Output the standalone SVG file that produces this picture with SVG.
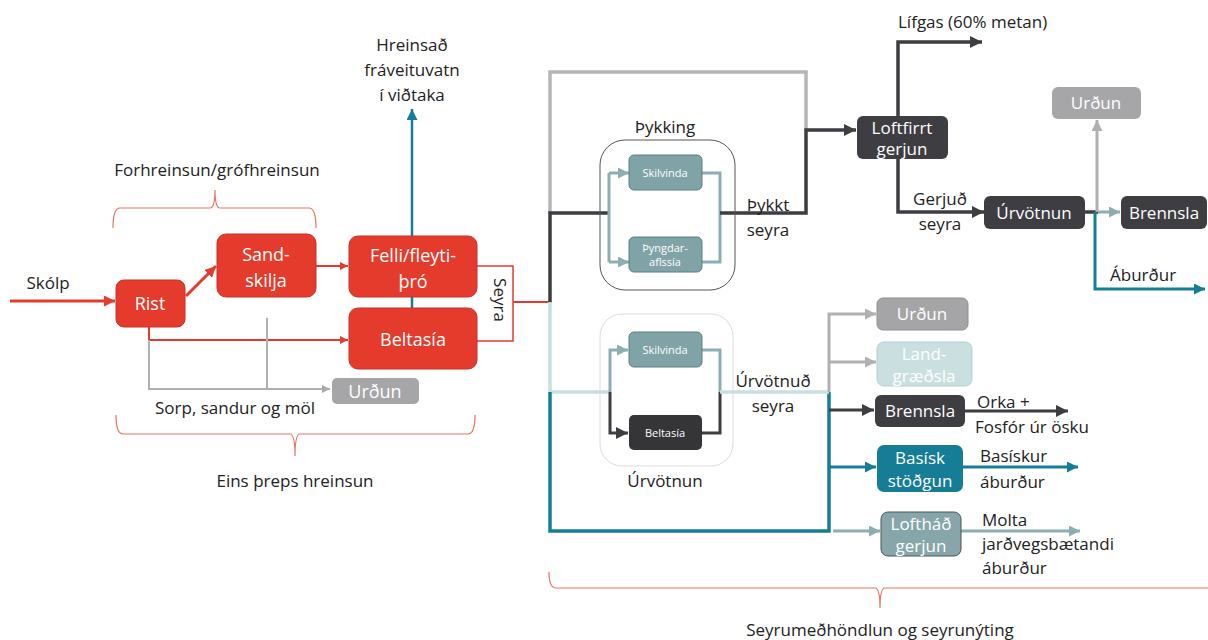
<svg xmlns="http://www.w3.org/2000/svg" width="1208" height="640" viewBox="0 0 1208 640">
<defs>
<style>
text{font-family:"Open Sans","Liberation Sans",sans-serif;fill:#222;font-size:17px}
.c{text-anchor:middle}
.w{fill:#fff}
.bt{font-size:18px}
.rb{font-size:17px}
.st{font-size:11px}
.red{fill:#e53b2c}
</style>
<marker id="aR" viewBox="0 0 10 10" refX="10" refY="5" markerWidth="11" markerHeight="11" markerUnits="userSpaceOnUse" orient="auto"><path d="M0,0 L10,5 L0,10 z" fill="#e53b2c"/></marker>
<marker id="aRs" viewBox="0 0 10 10" refX="10" refY="5" markerWidth="8" markerHeight="8" markerUnits="userSpaceOnUse" orient="auto"><path d="M0,0 L10,5 L0,10 z" fill="#e53b2c"/></marker>
<marker id="aT" viewBox="0 0 10 10" refX="10" refY="5" markerWidth="11" markerHeight="11" markerUnits="userSpaceOnUse" orient="auto"><path d="M0,0 L10,5 L0,10 z" fill="#167d96"/></marker>
<marker id="aD" viewBox="0 0 10 10" refX="10" refY="5" markerWidth="12" markerHeight="12" markerUnits="userSpaceOnUse" orient="auto"><path d="M0,0 L10,5 L0,10 z" fill="#3d3d42"/></marker>
<marker id="aG" viewBox="0 0 10 10" refX="10" refY="5" markerWidth="11" markerHeight="11" markerUnits="userSpaceOnUse" orient="auto"><path d="M0,0 L10,5 L0,10 z" fill="#b0b0b0"/></marker>
<marker id="aGs" viewBox="0 0 10 10" refX="10" refY="5" markerWidth="8" markerHeight="8" markerUnits="userSpaceOnUse" orient="auto"><path d="M0,0 L10,5 L0,10 z" fill="#a8a8a8"/></marker>
<marker id="aL" viewBox="0 0 10 10" refX="10" refY="5" markerWidth="11" markerHeight="11" markerUnits="userSpaceOnUse" orient="auto"><path d="M0,0 L10,5 L0,10 z" fill="#8cadb1"/></marker>
</defs>
<rect width="1208" height="640" fill="#fff"/>

<g id="connectors" fill="none" stroke-linejoin="miter">
  <line x1="10" y1="301" x2="115" y2="301" stroke="#e53b2c" stroke-width="3" marker-end="url(#aR)"/>
  <line x1="186" y1="296" x2="216" y2="266" stroke="#e53b2c" stroke-width="3" marker-end="url(#aR)"/>
  <line x1="316" y1="266" x2="348" y2="266" stroke="#e53b2c" stroke-width="2" marker-end="url(#aRs)"/>
  <polyline points="149,327 149,340 348,340" stroke="#e53b2c" stroke-width="2" marker-end="url(#aRs)"/>
  <polyline points="477,266 513,266 513,341 477,341" stroke="#e53b2c" stroke-width="1.5"/>
  <line x1="513" y1="302" x2="551" y2="302" stroke="#e53b2c" stroke-width="2"/>
  <polyline points="149,340 149,389 330,389" stroke="#b0b0b0" stroke-width="2" marker-end="url(#aGs)"/>
  <line x1="267" y1="318" x2="267" y2="389" stroke="#b0b0b0" stroke-width="2"/>
  <line x1="412" y1="236" x2="412" y2="109" stroke="#167d96" stroke-width="2.5" marker-end="url(#aT)"/>
  <line x1="412" y1="297" x2="412" y2="308" stroke="#167d96" stroke-width="2.5"/>
  <polyline points="550,213 550,72 806,72 806,130" stroke="#b5b5b5" stroke-width="3.5"/>
  <polyline points="550,303 550,213 608,213" stroke="#3d3d42" stroke-width="3.5"/>
  <line x1="609" y1="173" x2="609" y2="262" stroke="#8cadb1" stroke-width="3"/>
  <line x1="609" y1="173" x2="629" y2="173" stroke="#8cadb1" stroke-width="3" marker-end="url(#aL)"/>
  <line x1="609" y1="262" x2="629" y2="262" stroke="#8cadb1" stroke-width="3" marker-end="url(#aL)"/>
  <polyline points="702,173 720,173 720,262 702,262" stroke="#8cadb1" stroke-width="3"/>
  <polyline points="720,213 806,213 806,130 856,130" stroke="#3d3d42" stroke-width="3.5" marker-end="url(#aD)"/>
  <polyline points="898,116 898,42 982,42" stroke="#3d3d42" stroke-width="3.5" marker-end="url(#aD)"/>
  <polyline points="898,159 898,212 984,212" stroke="#3d3d42" stroke-width="3.5" marker-end="url(#aD)"/>
  <line x1="1085" y1="212" x2="1098" y2="212" stroke="#3d3d42" stroke-width="3.5"/>
  <line x1="1098" y1="212" x2="1120" y2="212" stroke="#8cadb1" stroke-width="3" marker-end="url(#aL)"/>
  <line x1="1097" y1="212" x2="1097" y2="120" stroke="#b0b0b0" stroke-width="3" marker-end="url(#aG)"/>
  <polyline points="1095,212 1095,289 1205,289" stroke="#167d96" stroke-width="3" marker-end="url(#aT)"/>
  <polyline points="550,302 550,392 610,392" stroke="#c8dfe2" stroke-width="3.5"/>
  <polyline points="550,392 550,531 829,531 829,392" stroke="#167d96" stroke-width="3.5"/>
  <polyline points="610,392 610,350 628,350" stroke="#8cadb1" stroke-width="3" marker-end="url(#aL)"/>
  <polyline points="610,392 610,433 628,433" stroke="#3d3d42" stroke-width="3" marker-end="url(#aD)"/>
  <polyline points="702,350 720,350 720,392" stroke="#8cadb1" stroke-width="3"/>
  <polyline points="702,433 720,433 720,392" stroke="#3d3d42" stroke-width="3"/>
  <line x1="720" y1="392" x2="829" y2="392" stroke="#c8dfe2" stroke-width="3.5"/>
  <polyline points="829,392 829,314 876,314" stroke="#b0b0b0" stroke-width="3" marker-end="url(#aG)"/>
  <line x1="829" y1="362" x2="876" y2="362" stroke="#b0b0b0" stroke-width="3" marker-end="url(#aG)"/>
  <line x1="829" y1="410" x2="874" y2="410" stroke="#3d3d42" stroke-width="3" marker-end="url(#aD)"/>
  <line x1="829" y1="467" x2="876" y2="467" stroke="#167d96" stroke-width="3" marker-end="url(#aT)"/>
  <line x1="833" y1="531" x2="880" y2="531" stroke="#8cadb1" stroke-width="3" marker-end="url(#aL)"/>
  <line x1="965" y1="411" x2="1068" y2="411" stroke="#3d3d42" stroke-width="3" marker-end="url(#aD)"/>
  <line x1="963" y1="467" x2="1078" y2="467" stroke="#167d96" stroke-width="3" marker-end="url(#aT)"/>
  <line x1="961" y1="531" x2="1080" y2="531" stroke="#8cadb1" stroke-width="3" marker-end="url(#aL)"/>
</g>

<g id="brackets" fill="none" stroke="#e8735f" stroke-width="1.2">
  <path d="M113,228 Q113,208 120,208 L210,208 Q215,208 215,190 Q215,208 220,208 L309,208 Q316,208 316,228"/>
  <path d="M116,415 Q116,434 123,434 L290,434 Q295,434 295,456 Q295,434 300,434 L468,434 Q475,434 475,415"/>
  <path d="M549,572 Q549,588 556,588 L875,588 Q880,588 880,608 Q880,588 885,588 L1208,588"/>
</g>

<g id="labels">
  <text x="48" y="289" class="c">Skólp</text>
  <text x="217" y="176" class="c">Forhreinsun/grófhreinsun</text>
  <text x="412" y="51" class="c">Hreinsað</text>
  <text x="412" y="76" class="c">fráveituvatn</text>
  <text x="412" y="101" class="c">í viðtaka</text>
  <text x="0" y="0" transform="translate(494,300) rotate(90)" class="c">Seyra</text>
  <text x="235" y="414" class="c">Sorp, sandur og möl</text>
  <text x="295" y="487" class="c">Eins þreps hreinsun</text>
  <text x="665" y="133" class="c">Þykking</text>
  <text x="768" y="211" class="c">Þykkt</text>
  <text x="768" y="236" class="c">seyra</text>
  <text x="773" y="387" class="c">Úrvötnuð</text>
  <text x="773" y="412" class="c">seyra</text>
  <text x="665" y="487" class="c">Úrvötnun</text>
  <text x="898" y="28">Lífgas (60% metan)</text>
  <text x="940" y="205" class="c">Gerjuð</text>
  <text x="940" y="230" class="c">seyra</text>
  <text x="1110" y="281">Áburður</text>
  <text x="977" y="408">Orka +</text>
  <text x="975" y="433">Fosfór úr ösku</text>
  <text x="980" y="462">Basískur</text>
  <text x="980" y="488">áburður</text>
  <text x="982" y="526">Molta</text>
  <text x="982" y="550">jarðvegsbætandi</text>
  <text x="982" y="574">áburður</text>
  <text x="880" y="636" class="c">Seyrumeðhöndlun og seyrunýting</text>
</g>

<g id="container-thykking"><rect x="600" y="140" width="135" height="150" rx="25" fill="none" stroke="#555" stroke-width="1"/></g>
<g id="container-urvotnun"><rect x="600" y="314" width="133" height="152" rx="22" fill="none" stroke="#dcdcdc" stroke-width="1"/></g>

<g id="n-rist"><rect x="116" y="280" width="69" height="47" rx="8" class="red" stroke="#c9302a" stroke-width="1"/><text x="150" y="310" class="c w bt">Rist</text></g>
<g id="n-sandskilja"><rect x="217" y="234" width="99" height="63" rx="9" class="red" stroke="#c9302a" stroke-width="1"/><text x="266" y="261" class="c w bt">Sand-</text><text x="266" y="287" class="c w bt">skilja</text></g>
<g id="n-felli"><rect x="349" y="236" width="128" height="61" rx="9" class="red" stroke="#c9302a" stroke-width="1"/><text x="413" y="262" class="c w bt">Felli/fleyti-</text><text x="413" y="288" class="c w bt">þró</text></g>
<g id="n-beltasia"><rect x="349" y="308" width="128" height="61" rx="9" class="red" stroke="#c9302a" stroke-width="1"/><text x="413" y="346" class="c w bt">Beltasía</text></g>
<g id="n-urdun1"><rect x="332" y="378" width="87" height="26" rx="5" fill="#a6a6a8"/><text x="375" y="398" class="c w bt">Urðun</text></g>

<g id="n-skilvinda1"><rect x="629" y="155" width="73" height="35" rx="5" fill="#7fa3a7" stroke="#5d7f83" stroke-width="1"/><text x="665" y="177" class="c w st">Skilvinda</text></g>
<g id="n-thyngdar"><rect x="629" y="237" width="73" height="35" rx="5" fill="#7fa3a7" stroke="#5d7f83" stroke-width="1"/><text x="665" y="252" class="c w st">Þyngdar-</text><text x="665" y="266" class="c w st">aflssía</text></g>
<g id="n-skilvinda2"><rect x="629" y="332" width="73" height="35" rx="5" fill="#7fa3a7" stroke="#5d7f83" stroke-width="1"/><text x="665" y="354" class="c w st">Skilvinda</text></g>
<g id="n-beltasia2"><rect x="629" y="415" width="73" height="35" rx="5" fill="#353437"/><text x="665" y="437" class="c w st">Beltasía</text></g>

<g id="n-loftfirrt"><rect x="857" y="116" width="91" height="43" rx="6" fill="#3d3d42"/><text x="902" y="134" class="c w rb">Loftfirrt</text><text x="902" y="155" class="c w rb">gerjun</text></g>
<g id="n-urvotnun"><rect x="984" y="196" width="101" height="33" rx="6" fill="#3d3d42"/><text x="1034" y="219" class="c w rb">Úrvötnun</text></g>
<g id="n-brennsla1"><rect x="1121" y="196" width="86" height="33" rx="6" fill="#3d3d42"/><text x="1164" y="219" class="c w rb">Brennsla</text></g>
<g id="n-urdun2"><rect x="1052" y="87" width="89" height="32" rx="6" fill="#a6a6a8"/><text x="1096" y="109" class="c w rb">Urðun</text></g>

<g id="n-urdun3"><rect x="877" y="298" width="91" height="32" rx="6" fill="#a5a5a7" stroke="#8e8e90" stroke-width="1"/><text x="922" y="320" class="c w rb">Urðun</text></g>
<g id="n-landgraedsla"><rect x="877" y="342" width="95" height="44" rx="7" fill="#c9dfe0" stroke="#b4cfd1" stroke-width="1"/><text x="924" y="360" class="c w rb">Land-</text><text x="924" y="382" class="c w rb">græðsla</text></g>
<g id="n-brennsla2"><rect x="875" y="395" width="90" height="32" rx="6" fill="#3d3d42"/><text x="920" y="417" class="c w rb">Brennsla</text></g>
<g id="n-basisk"><rect x="877" y="445" width="86" height="47" rx="7" fill="#167d96"/><text x="920" y="464" class="c w rb">Basísk</text><text x="920" y="487" class="c w rb">stöðgun</text></g>
<g id="n-loftha"><rect x="881" y="512" width="80" height="44" rx="7" fill="#86a6aa" stroke="#4b5557" stroke-width="1"/><text x="921" y="530" class="c w rb">Loftháð</text><text x="921" y="552" class="c w rb">gerjun</text></g>
</svg>
